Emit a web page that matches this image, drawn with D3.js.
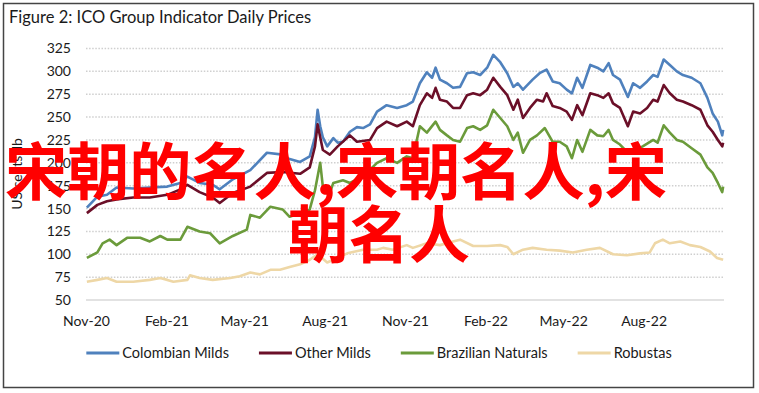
<!DOCTYPE html>
<html>
<head>
<meta charset="utf-8">
<script src="https://cdn.jsdelivr.net/npm/d3@7"></script>
<style>
  html, body { margin: 0; padding: 0; background: #fff; }
  svg { display: block; font-family: Lato, "Noto Sans", sans-serif; }
</style>
</head>
<body>
<svg id="chart" width="759" height="393"></svg>
<script>
const title = "Figure 2: ICO Group Indicator Daily Prices";
const yTitle = "US cents/lb";
const yTicks = [50, 75, 100, 125, 150, 175, 200, 225, 250, 275, 300, 325];
const xTickDates = ["2020-11-01", "2021-02-01", "2021-05-01", "2021-08-01", "2021-11-01", "2022-02-01", "2022-05-01", "2022-08-01"];
const overlayLines = ["宋朝的名人,宋朝名人,宋", "朝名人"];

const colombianMilds = [
  ["2020-11-02", 151], ["2020-11-14", 163], ["2020-11-25", 165], ["2020-12-06", 173], ["2020-12-25", 172],
  ["2021-01-13", 173], ["2021-02-02", 174], ["2021-02-17", 178], ["2021-02-25", 185], ["2021-03-11", 178],
  ["2021-03-26", 176], ["2021-04-03", 171], ["2021-04-18", 182], ["2021-05-08", 192], ["2021-05-27", 211],
  ["2021-06-14", 209], ["2021-06-19", 205], ["2021-07-04", 201], ["2021-07-15", 207], ["2021-07-21", 228],
  ["2021-07-24", 258], ["2021-07-27", 240], ["2021-07-30", 228], ["2021-08-04", 218], ["2021-08-11", 227],
  ["2021-08-16", 222], ["2021-08-22", 223], ["2021-08-30", 234], ["2021-09-07", 239], ["2021-09-14", 238],
  ["2021-09-22", 242], ["2021-09-30", 256], ["2021-10-11", 263], ["2021-10-23", 260], ["2021-11-03", 263],
  ["2021-11-10", 267], ["2021-11-18", 287], ["2021-11-26", 299], ["2021-12-02", 293], ["2021-12-06", 304],
  ["2021-12-11", 291], ["2021-12-19", 287], ["2021-12-26", 282], ["2022-01-03", 283], ["2022-01-11", 298],
  ["2022-01-18", 299], ["2022-01-26", 296], ["2022-02-03", 304], ["2022-02-10", 318], ["2022-02-18", 310],
  ["2022-02-26", 298], ["2022-03-05", 283], ["2022-03-10", 287], ["2022-03-16", 280], ["2022-03-27", 291],
  ["2022-04-04", 298], ["2022-04-12", 302], ["2022-04-19", 289], ["2022-04-27", 287], ["2022-05-05", 280],
  ["2022-05-11", 276], ["2022-05-17", 293], ["2022-05-23", 282], ["2022-06-01", 307], ["2022-06-09", 304],
  ["2022-06-16", 300], ["2022-06-22", 309], ["2022-06-27", 296], ["2022-07-05", 291], ["2022-07-14", 272],
  ["2022-07-20", 287], ["2022-07-28", 282], ["2022-08-05", 289], ["2022-08-12", 296], ["2022-08-17", 294],
  ["2022-08-24", 313], ["2022-08-31", 307], ["2022-09-08", 300], ["2022-09-15", 296], ["2022-09-25", 293],
  ["2022-10-05", 287], ["2022-10-13", 271], ["2022-10-19", 254], ["2022-10-25", 245], ["2022-10-30", 230],
  ["2022-10-31", 236],
];

const otherMilds = [
  ["2020-11-02", 145], ["2020-11-14", 154], ["2020-11-25", 158], ["2020-12-06", 160], ["2020-12-25", 162],
  ["2021-01-13", 162], ["2021-02-02", 165], ["2021-02-17", 171], ["2021-02-25", 176], ["2021-03-11", 168],
  ["2021-03-26", 162], ["2021-04-03", 156], ["2021-04-18", 167], ["2021-05-08", 174], ["2021-05-27", 189],
  ["2021-06-14", 190], ["2021-07-04", 188], ["2021-07-15", 195], ["2021-07-21", 218], ["2021-07-24", 242],
  ["2021-07-30", 214], ["2021-08-07", 209], ["2021-08-16", 218], ["2021-08-30", 230], ["2021-09-07", 223],
  ["2021-09-22", 225], ["2021-09-30", 238], ["2021-10-11", 245], ["2021-10-23", 240], ["2021-11-03", 245],
  ["2021-11-10", 240], ["2021-11-18", 263], ["2021-11-26", 276], ["2021-12-02", 271], ["2021-12-06", 282],
  ["2021-12-11", 269], ["2021-12-19", 267], ["2021-12-26", 260], ["2022-01-03", 260], ["2022-01-11", 274],
  ["2022-01-18", 276], ["2022-01-26", 274], ["2022-02-03", 280], ["2022-02-10", 293], ["2022-02-18", 283],
  ["2022-02-26", 274], ["2022-03-05", 258], ["2022-03-10", 269], ["2022-03-16", 249], ["2022-03-24", 260],
  ["2022-04-01", 269], ["2022-04-08", 267], ["2022-04-12", 276], ["2022-04-19", 262], ["2022-04-27", 260],
  ["2022-05-05", 256], ["2022-05-11", 247], ["2022-05-17", 263], ["2022-05-23", 252], ["2022-06-01", 276],
  ["2022-06-09", 274], ["2022-06-16", 271], ["2022-06-22", 276], ["2022-06-27", 265], ["2022-07-05", 260],
  ["2022-07-14", 240], ["2022-07-20", 256], ["2022-07-28", 254], ["2022-08-05", 260], ["2022-08-12", 269],
  ["2022-08-17", 267], ["2022-08-24", 285], ["2022-08-31", 276], ["2022-09-08", 269], ["2022-09-15", 267],
  ["2022-09-25", 263], ["2022-10-05", 258], ["2022-10-13", 241], ["2022-10-19", 234], ["2022-10-25", 225],
  ["2022-10-30", 218], ["2022-10-31", 222],
];

const brazilianNaturals = [
  ["2020-11-02", 96], ["2020-11-14", 102], ["2020-11-20", 112], ["2020-11-28", 116], ["2020-12-06", 110],
  ["2020-12-18", 118], ["2021-01-02", 118], ["2021-01-13", 114], ["2021-01-25", 120], ["2021-02-02", 116],
  ["2021-02-17", 116], ["2021-02-25", 130], ["2021-03-11", 125], ["2021-03-23", 123], ["2021-04-03", 112],
  ["2021-04-18", 120], ["2021-05-04", 127], ["2021-05-08", 143], ["2021-05-19", 140], ["2021-05-31", 152],
  ["2021-06-14", 149], ["2021-06-22", 141], ["2021-07-04", 145], ["2021-07-15", 149], ["2021-07-21", 170],
  ["2021-07-27", 200], ["2021-07-30", 174], ["2021-08-07", 167], ["2021-08-11", 178], ["2021-08-22", 181],
  ["2021-08-30", 178], ["2021-09-14", 185], ["2021-09-30", 200], ["2021-10-11", 205], ["2021-10-23", 200],
  ["2021-11-03", 207], ["2021-11-10", 205], ["2021-11-18", 240], ["2021-11-26", 233], ["2021-12-06", 245],
  ["2021-12-11", 236], ["2021-12-19", 230], ["2021-12-26", 225], ["2022-01-03", 223], ["2022-01-11", 238],
  ["2022-01-18", 240], ["2022-01-26", 236], ["2022-02-03", 241], ["2022-02-10", 258], ["2022-02-18", 249],
  ["2022-02-26", 240], ["2022-03-05", 225], ["2022-03-10", 233], ["2022-03-16", 211], ["2022-03-24", 225],
  ["2022-04-01", 230], ["2022-04-10", 238], ["2022-04-19", 223], ["2022-04-27", 223], ["2022-05-05", 218],
  ["2022-05-11", 205], ["2022-05-17", 225], ["2022-05-23", 212], ["2022-06-01", 236], ["2022-06-09", 230],
  ["2022-06-16", 229], ["2022-06-22", 236], ["2022-06-27", 225], ["2022-07-05", 220], ["2022-07-14", 211],
  ["2022-07-20", 213], ["2022-07-31", 218], ["2022-08-12", 225], ["2022-08-17", 222], ["2022-08-24", 241],
  ["2022-08-31", 233], ["2022-09-08", 225], ["2022-09-15", 223], ["2022-09-25", 216], ["2022-10-05", 209],
  ["2022-10-13", 195], ["2022-10-19", 189], ["2022-10-25", 178], ["2022-10-30", 168], ["2022-10-31", 174],
];

const robustas = [
  ["2020-11-02", 70], ["2020-11-14", 72], ["2020-11-25", 74], ["2020-12-06", 70], ["2020-12-25", 70],
  ["2021-01-13", 72], ["2021-01-25", 74], ["2021-02-02", 72], ["2021-02-09", 70], ["2021-02-25", 72],
  ["2021-02-28", 77], ["2021-03-11", 74], ["2021-03-26", 72], ["2021-04-15", 74], ["2021-04-26", 76],
  ["2021-05-08", 80], ["2021-05-19", 78], ["2021-05-31", 83], ["2021-06-11", 83], ["2021-06-22", 86],
  ["2021-07-04", 89], ["2021-07-15", 94], ["2021-07-24", 100], ["2021-08-04", 91], ["2021-08-11", 94],
  ["2021-08-27", 101], ["2021-09-14", 105], ["2021-09-30", 105], ["2021-10-07", 107], ["2021-10-18", 105],
  ["2021-11-03", 110], ["2021-11-10", 107], ["2021-11-26", 112], ["2021-12-11", 110], ["2021-12-26", 114],
  ["2022-01-03", 116], ["2022-01-18", 109], ["2022-02-03", 109], ["2022-02-18", 110], ["2022-02-26", 108],
  ["2022-03-05", 100], ["2022-03-16", 105], ["2022-03-27", 107], ["2022-04-12", 105], ["2022-04-27", 104],
  ["2022-05-12", 102], ["2022-05-28", 105], ["2022-06-12", 107], ["2022-06-27", 100], ["2022-07-13", 99],
  ["2022-07-28", 101], ["2022-08-08", 102], ["2022-08-14", 112], ["2022-08-23", 116], ["2022-08-31", 112],
  ["2022-09-12", 114], ["2022-09-23", 110], ["2022-10-05", 108], ["2022-10-16", 103], ["2022-10-24", 96],
  ["2022-10-31", 94],
];

const seriesNames = ["Colombian Milds", "Other Milds", "Brazilian Naturals", "Robustas"];
const seriesColors = ["#4f81bd", "#6b0f28", "#6b9b3b", "#eed7a6"];
const seriesValues = [colombianMilds, otherMilds, brazilianNaturals, robustas];

const parseDate = d3.timeParse("%Y-%m-%d");
const svg = d3.select("#chart");

// frame
svg.append("rect")
  .attr("x", 3.5).attr("y", 3.5)
  .attr("width", 750).attr("height", 384)
  .attr("fill", "#fff")
  .attr("stroke", "#444")
  .attr("stroke-width", 1.5);

svg.append("text")
  .attr("x", 9).attr("y", 22.5)
  .attr("font-size", 16.5)
  .attr("fill", "#1a1a1a")
  .text(title);

const x = d3.scaleTime()
  .domain([parseDate("2020-11-01"), parseDate("2022-11-01")])
  .range([86, 724]);

const y = d3.scaleLinear()
  .domain([50, 325])
  .range([300, 48.5]);

// grid lines
svg.append("g")
  .selectAll("line")
  .data(yTicks.filter((t) => t !== 50))
  .join("line")
  .attr("x1", x.range()[0]).attr("x2", x.range()[1])
  .attr("y1", (d) => y(d)).attr("y2", (d) => y(d))
  .attr("stroke", "#cfcfcf")
  .attr("stroke-width", 1.5)
  .attr("stroke-dasharray", "1.5,1.6");

svg.append("line")
  .attr("x1", x.range()[0]).attr("x2", x.range()[1])
  .attr("y1", y(50)).attr("y2", y(50))
  .attr("stroke", "#d9d9d9")
  .attr("stroke-width", 1.5);

const yAxis = svg.append("g")
  .attr("transform", "translate(71,0)")
  .call(d3.axisLeft(y).tickValues(yTicks).tickSize(0).tickPadding(0));
yAxis.select(".domain").remove();
yAxis.selectAll("text")
  .attr("font-family", "Lato")
  .attr("font-size", 14)
  .attr("fill", "#1a1a1a");

const xAxis = svg.append("g")
  .attr("transform", "translate(0,300)")
  .call(
    d3.axisBottom(x)
      .tickValues(xTickDates.map(parseDate))
      .tickFormat(d3.timeFormat("%b-%y"))
      .tickSize(0)
      .tickPadding(16)
  );
xAxis.select(".domain").remove();
xAxis.selectAll("text")
  .attr("font-family", "Lato")
  .attr("font-size", 14)
  .attr("fill", "#1a1a1a");

svg.append("text")
  .attr("transform", "translate(22,174) rotate(-90)")
  .attr("text-anchor", "middle")
  .attr("font-size", 14)
  .attr("fill", "#1a1a1a")
  .text(yTitle);

const line = d3.line()
  .x((d) => x(parseDate(d[0])))
  .y((d) => y(d[1]));

svg.append("g")
  .selectAll("path")
  .data(seriesValues)
  .join("path")
  .attr("d", line)
  .attr("fill", "none")
  .attr("stroke", (d, i) => seriesColors[i])
  .attr("stroke-width", 2.6)
  .attr("stroke-linejoin", "round");

// legend, centred under the plot
const legend = svg.append("g").attr("transform", "translate(0,353)");
const items = legend.selectAll("g")
  .data(seriesNames)
  .join("g");
items.append("line")
  .attr("x1", 0).attr("x2", 33)
  .attr("stroke", (d, i) => seriesColors[i])
  .attr("stroke-width", 3);
items.append("text")
  .attr("x", 36)
  .attr("dy", "0.35em")
  .attr("font-size", 14.5)
  .attr("fill", "#1a1a1a")
  .text((d) => d);

let offsets = [];
let total = 0;
items.each(function () {
  const w = 36 + this.querySelector("text").getComputedTextLength();
  offsets.push(total);
  total += w + 30;
});
total -= 30;
const startX = 379 - total / 2;
items.attr("transform", (d, i) => `translate(${startX + offsets[i]},0)`);

// red overlay text
const overlay = svg.append("g")
  .attr("font-family", "'Noto Sans CJK SC', sans-serif")
  .attr("font-weight", 700)
  .attr("font-size", 62)
  .attr("fill", "#ff0000");
overlay.append("text")
  .attr("x", 5).attr("y", 195)
  .attr("textLength", 662)
  .attr("lengthAdjust", "spacingAndGlyphs")
  .text(overlayLines[0]);
overlay.append("text")
  .attr("x", 288).attr("y", 258)
  .attr("textLength", 182)
  .attr("lengthAdjust", "spacingAndGlyphs")
  .text(overlayLines[1]);
</script>
</body>
</html>
